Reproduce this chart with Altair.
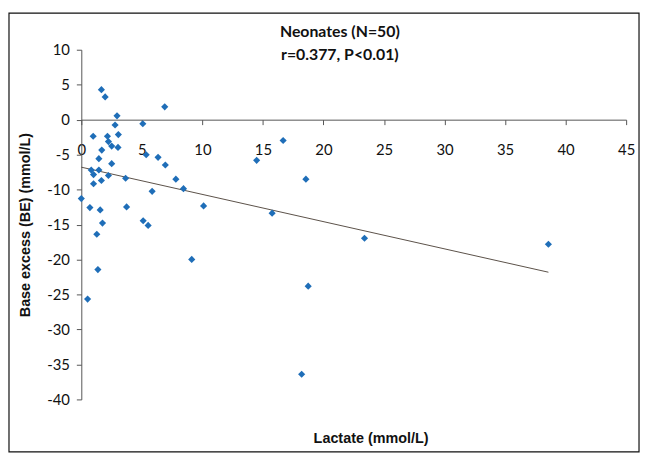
import altair as alt
import pandas as pd

lactate = [1.66, 1.97, 6.89, 2.95, 2.79, 5.08, 0.98, 2.16, 3.06, 2.24,
           2.51, 3.03, 1.69, 5.36, 6.34, 1.45, 6.94, 2.51, 0.82, 1.45,
           1.01, 2.24, 3.66, 7.81, 1.01, 1.66, 8.44, 0.0, 5.85, 0.71,
           1.56, 3.74, 10.1, 1.75, 5.11, 5.52, 1.28, 9.12, 1.37, 0.52,
           16.67, 14.48, 18.55, 15.76, 23.39, 38.58, 18.74, 18.2]
base_excess = [4.29, 3.25, 1.83, 0.55, -0.77, -0.58, -2.37, -2.37, -2.13, -3.13,
               -3.78, -3.97, -4.35, -5.01, -5.39, -5.58, -6.48, -6.29, -7.19, -7.19,
               -7.85, -7.99, -8.37, -8.51, -9.17, -8.70, -9.87, -11.29, -10.25, -12.57,
               -12.9, -12.48, -12.33, -14.79, -14.46, -15.12, -16.39, -19.98, -21.44, -25.65,
               -2.98, -5.82, -8.51, -13.37, -16.96, -17.81, -23.81, -36.4]

x_ticks = [0, 5, 10, 15, 20, 25, 30, 35, 40, 45]
y_ticks = [10, 5, 0, -5, -10, -15, -20, -25, -30, -35, -40]

df = pd.DataFrame({"lactate": lactate, "be": base_excess})

W, H = 550, 353
y0_offset = -(H * 40 / 50)  # move x axis up to y = 0

x_axis = alt.Axis(values=x_ticks, orient="bottom", offset=y0_offset,
                  grid=False, tickSize=5, labelPadding=18, labelOverlap=False,
                  labelFlush=False, labelBound=False,
                  labelExpr="toString(datum.value)",
                  title="Lactate (mmol/L)", titleX=292, titleY=322,
                  titleAlign="center", titleBaseline="middle")
y_axis = alt.Axis(values=y_ticks, grid=False, tickSize=5, labelPadding=7,
                  labelOverlap=False, labelFlush=False, labelExpr="toString(datum.value)",
                  title="Base excess (BE) (mmol/L)", titleX=-56, titleY=H / 2,
                  titleAngle=270, titleAlign="center", titleBaseline="middle")

x_enc = alt.X("lactate:Q", scale=alt.Scale(domain=[0, 45], nice=False), axis=x_axis)
y_enc = alt.Y("be:Q", scale=alt.Scale(domain=[-40, 10], nice=False), axis=y_axis)

points = alt.Chart(df).mark_point(shape="diamond", filled=True, size=52,
                                  color="#1F6EB8", opacity=1).encode(x=x_enc, y=y_enc)

trend = alt.Chart(df).transform_regression("lactate", "be").mark_line(
    color="#5a5048", strokeWidth=1).encode(x=x_enc, y=y_enc)

border = alt.Chart(pd.DataFrame({"a": [0]})).mark_rect(
    fill="transparent", stroke="#111", strokeWidth=1.2).encode(
    x=alt.value(-73), x2=alt.value(563), y=alt.value(-37), y2=alt.value(406))

chart = alt.layer(border, trend, points).properties(
    width=W, height=H,
    title=alt.TitleParams(["Neonates (N=50)", "r=0.377, P<0.01)"], font="Lato",
                          fontSize=16, fontWeight="bold", color="#111",
                          lineHeight=23, anchor="middle", dx=-14, dy=39, offset=-12),
    autosize=alt.AutoSizeParams(type="none"),
    padding={"left": 74, "top": 40, "right": 15, "bottom": 55},
).configure_view(strokeWidth=0).configure_axis(
    domainColor="#555", tickColor="#555", labelFont="Lato", labelFontSize=15,
    labelColor="#111", titleFont="Liberation Sans", titleFontSize=14.5,
    titleFontWeight="bold", titleColor="#111")

chart.save("out.html", embed_options={"renderer": "svg", "actions": False})
